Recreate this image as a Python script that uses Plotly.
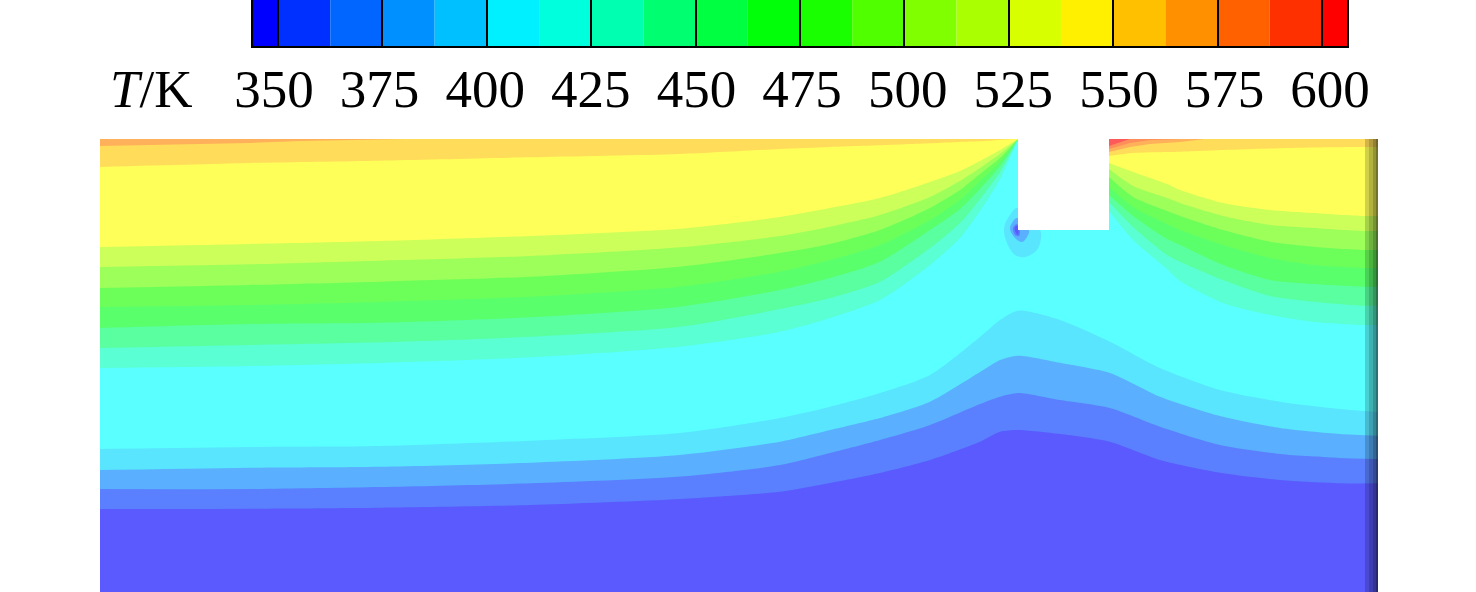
import plotly.graph_objects as go

# Colour-bar data (K)
temp_ticks = [350, 375, 400, 425, 450, 475, 500, 525, 550, 575, 600]
band_edges = [344, 350, 362.5, 375, 387.5, 400, 412.5, 425, 437.5, 450, 462.5, 475, 487.5,
              500, 512.5, 525, 537.5, 550, 562.5, 575, 587.5, 600, 606]
band_colors = ["#0000ff", "#0030ff", "#0066ff", "#0090ff", "#00c0ff", "#00f0ff", "#00ffdd",
               "#00ffb0", "#00ff70", "#00ff40", "#00ff08", "#1aff00", "#50ff00", "#80ff00",
               "#aaff00", "#d8ff00", "#fff000", "#ffc000", "#ff9000", "#ff6000", "#ff3000", "#ff0000"]

# Domain: x along the plate, depth below the top wall
domain_x = [0, 1278]
domain_depth = 453
block_x = [918, 1009]
block_depth = 91

# Isotherm depths: cold side, spanning the domain
lower_x = [0, 150, 280, 430, 580, 680, 730, 780, 830, 880, 900, 918, 960, 1010, 1060, 1120, 1180, 1240, 1278]
iso_cold = [
    ("#5a80ff", [370, 369.7, 368.7, 366, 360, 352.7, 344, 334, 321, 302.7, 292.7, 291, 295, 302.7, 321, 333.7, 341, 344.3, 344.3]),
    ("#5ab0ff", [350, 350, 348, 344.3, 337.5, 326, 314, 301, 286, 265, 257.7, 254, 261, 269, 287.7, 306, 315, 319, 320]),
    ("#5ae5ff", [331, 328.7, 327.7, 323.7, 316, 302.7, 291, 279, 262.7, 233, 221, 216.7, 223.7, 234, 257.7, 277, 289, 295, 296.7]),
    ("#5affff", [310, 308, 307, 301.7, 294, 279, 267.7, 254, 236, 198, 181, 171.7, 181, 202.7, 229, 251, 262.7, 270, 273]),
]

# Isotherm depths: hot side, left of the block
left_x = [0, 150, 280, 430, 580, 680, 730, 780, 830, 860, 880, 900, 918]
iso_left = [
    ("#5affd4", [229, 227, 224, 218.3, 207.7, 192.7, 179, 161, 126, 99, 72, 40, 0]),
    ("#5affa0", [209, 206, 203.3, 197.7, 187.7, 170, 159, 142.7, 109, 84, 60, 33, 0]),
    ("#5aff6c", [189, 185, 183.7, 178.3, 167.7, 151, 139, 122.7, 91, 70, 50, 27, 0]),
    ("#6cff5a", [168, 166, 163, 157.7, 147.7, 132.7, 121, 106, 81, 61, 42, 23, 0]),
    ("#9cff5a", [149, 146, 142.7, 137.7, 127.7, 114, 105, 91, 69, 51, 35, 19, 0]),
    ("#ccff5a", [128, 125.3, 121.7, 117, 108.3, 97, 87.7, 76, 58, 42, 29, 15, 0]),
    ("#ffff5a", [108, 105, 102, 97, 89.7, 78, 69, 59, 43, 32, 22, 11, 0]),
    ("#ffdd5a", [28, 24, 21.7, 18.3, 15, 10, 8, 6.3, 4.3, 3, 2.3, 1, 0]),
]
orange_left_x = [0, 70, 150, 200, 250, 306]
orange_left = [7, 5.5, 4, 2, 1, 0]

# Isotherm depths: hot side, right of the block
right_x = [1009, 1033, 1067, 1080, 1123, 1170, 1213, 1263, 1278]
iso_right = [
    ("#5affd4", [72, 101, 130, 142, 164, 176, 182.7, 186, 186]),
    ("#5affa0", [63, 88, 116, 122.7, 141, 157, 162.7, 166.7, 166.7]),
    ("#5aff6c", [56, 77, 100, 106, 126, 141, 145, 147.7, 147.7]),
    ("#6cff5a", [48, 68, 85, 91, 106, 119, 126, 129, 129]),
    ("#9cff5a", [38, 58, 72, 77, 91, 102.7, 107.7, 111, 111]),
    ("#ccff5a", [30, 47, 59, 64, 77, 86, 89, 92, 92]),
    ("#ffff5a", [24, 33, 45, 51, 64, 71, 74, 77, 77]),
    ("#ffdd5a", [17, 14, 13, 12.7, 11, 9.5, 8.5, 8, 8]),
]
hot_right_x = [1009, 1030, 1050, 1080, 1105]
hot_right = [
    ("#ffb05a", [13, 8, 5, 3, 0]),
    ("#ff8f5a", [10, 4, 1, 0, 0]),
    ("#ff5a5a", [7, 0, 0, 0, 0]),
]

# Small cold eddy under the block's left corner
eddy = [
    ("#5ae5ff", [917, 910, 904, 907, 915, 925, 937, 941, 940, 917], [69, 76, 89, 104, 116, 118, 111, 99, 91, 69]),
    ("#5ab0ff", [917, 912, 910, 915, 922, 927, 929, 917], [79, 84, 90, 99, 103, 98, 91, 79]),
    ("#5a80ff", [917, 913, 915, 919, 920, 917], [85, 89, 96, 97, 93, 85]),
    ("#5a5aff", [915, 915, 918, 918, 915], [88, 92, 96, 87, 88]),
]

BASE = "#5a5aff"

fig = go.Figure()

# Colour bar
mids = [(a + b) / 2 for a, b in zip(band_edges[:-1], band_edges[1:])]
widths = [b - a for a, b in zip(band_edges[:-1], band_edges[1:])]
fig.add_trace(go.Bar(x=mids, y=[1] * len(mids), width=widths, marker=dict(color=band_colors, line=dict(width=0)),
                     xaxis="x2", yaxis="y2", hoverinfo="skip", showlegend=False))
fig.add_trace(go.Scatter(x=temp_ticks, y=[0] * len(temp_ticks), mode="markers", marker=dict(opacity=0),
                         xaxis="x3", yaxis="y2", hoverinfo="skip", showlegend=False))


def band(x, y, colour, shape="spline"):
    fig.add_trace(go.Scatter(x=x, y=y, mode="lines", line=dict(width=0, color=colour, shape=shape, smoothing=0.7),
                             fill="tozeroy", fillcolor=colour, hoverinfo="skip", showlegend=False))


# Field, painted from the cold bottom upward
band(domain_x, [domain_depth, domain_depth], BASE, "linear")
for colour, depth in iso_cold:
    band(lower_x, depth, colour)
for colour, depth in iso_left:
    band(left_x, depth, colour)
band(orange_left_x, orange_left, "#ffb05a", "linear")
for colour, depth in iso_right:
    band(right_x, depth, colour)
for colour, depth in hot_right:
    band(hot_right_x, depth, colour, "linear")
for colour, ex, ey in eddy:
    fig.add_trace(go.Scatter(x=ex, y=ey, mode="lines", line=dict(width=0, color=colour, shape="spline"), fill="toself",
                             fillcolor=colour, hoverinfo="skip", showlegend=False))

shapes = [dict(type="rect", xref="x", yref="y", x0=block_x[0], x1=block_x[1], y0=-2, y1=block_depth,
               fillcolor="white", line=dict(width=0), layer="above")]
for x0, x1, op in [(1265, 1269, 0.18), (1269, 1273, 0.3), (1273, 1276, 0.42), (1276, 1278, 0.55)]:
    shapes.append(dict(type="rect", xref="x", yref="y", x0=x0, x1=x1, y0=0, y1=domain_depth,
                       fillcolor="black", opacity=op, line=dict(width=0), layer="above"))

W, H = 1476, 592
serif = "Liberation Serif"
fig.update_layout(
    width=W, height=H, margin=dict(l=0, r=0, t=0, b=0, autoexpand=False), paper_bgcolor="white", plot_bgcolor="white",
    font=dict(family=serif, color="black"), shapes=shapes, barmode="overlay",
    xaxis=dict(domain=[100 / W, 1378 / W], range=domain_x, visible=False, fixedrange=True),
    yaxis=dict(domain=[0, (H - 139) / H], range=[domain_depth, 0], visible=False, fixedrange=True),
    xaxis2=dict(domain=[253 / W, 1347 / W], range=[344, 606], anchor="y2", tickvals=temp_ticks,
                ticks="inside", ticklen=47, tickwidth=2, tickcolor="black", showticklabels=False,
                showline=True, linecolor="black", linewidth=2, mirror=True, showgrid=False, zeroline=False,
                fixedrange=True),
    yaxis2=dict(domain=[(H - 46) / H, 1], range=[0, 1], anchor="x2", showticklabels=False, ticks="",
                showline=True, linecolor="black", linewidth=2, mirror=True, showgrid=False, zeroline=False,
                fixedrange=True),
    xaxis3=dict(overlaying="x2", anchor="y2", side="bottom", range=[345.03, 604.0], tickvals=temp_ticks,
                ticktext=[str(t) for t in temp_ticks], ticks="", showline=False, showgrid=False, zeroline=False,
                tickfont=dict(family=serif, size=53, color="black"), ticklabelstandoff=7, fixedrange=True),
    annotations=[dict(text="<i>T</i>/K", xref="paper", yref="paper", x=108 / W, y=1 - 89 / H,
                      xanchor="left", yanchor="middle", showarrow=False,
                      font=dict(family=serif, size=53, color="black"))],
)

fig.write_html("out.html", config=dict(displayModeBar=False),
               post_script="document.body.style.margin='0';")
